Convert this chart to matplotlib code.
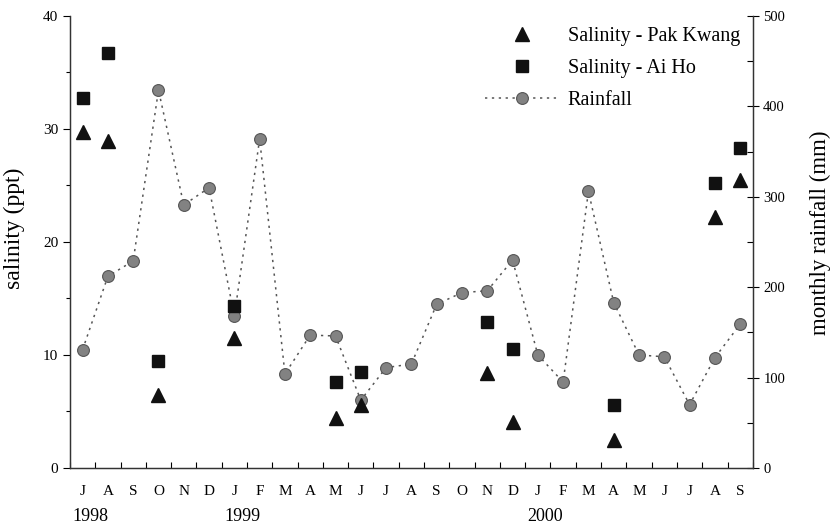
import numpy as np
import matplotlib
matplotlib.use("Agg")
from matplotlib import pyplot as plt
from matplotlib.ticker import MultipleLocator
import matplotlib.transforms as mtransforms

# months from July 1998 to September 2000
months = ["J", "A", "S", "O", "N", "D", "J", "F", "M", "A", "M", "J",
          "J", "A", "S", "O", "N", "D", "J", "F", "M", "A", "M", "J",
          "J", "A", "S"]
years = ["1998", "1999", "2000"]
year_start = [0, 6, 18]  # index of the first month of each year label

rainfall = [131, 212, 229, 418, 291, 310, 168, 364, 104, 147, 146, 75,
            111, 115, 181, 194, 196, 230, 125, 95, 306, 183, 125, 123,
            70, 122, 159]

# salinity sampling months (index into months) and values
pk_idx = [0, 1, 3, 6, 10, 11, 16, 17, 21, 25, 26]
pak_kwang = [29.7, 28.9, 6.5, 11.5, 4.4, 5.6, 8.4, 4.1, 2.5, 22.2, 25.5]
ah_idx = [0, 1, 3, 6, 10, 11, 16, 17, 21, 25, 26]
ai_ho = [32.75, 36.75, 9.5, 14.3, 7.65, 8.5, 12.9, 10.5, 5.6, 25.2, 28.3]

plt.rcParams['font.family'] = ['Liberation Serif', 'DejaVu Serif']

fig = plt.figure(figsize=(8.3, 5.27), dpi=100)
ax = fig.add_axes([0.0843, 0.112, 0.8227, 0.8577])
ax2 = ax.twinx()

x = np.arange(len(months)) + 0.5

rf, = ax2.plot(x, rainfall, linestyle=(0, (1.5, 3)), color="#555555", lw=1.1,
               marker="o", markersize=8.5, markerfacecolor="#828282",
               markeredgecolor="#555555", markeredgewidth=0.8,
               label="Rainfall", zorder=2)
# salinity drawn on the rainfall axes: 40 ppt <-> 500 mm
pk, = ax2.plot(x[pk_idx], np.array(pak_kwang) * 12.5, linestyle="none",
               marker="^", markersize=10, color="#111111",
               label="Salinity - Pak Kwang", zorder=3)
ah, = ax2.plot(x[ah_idx], np.array(ai_ho) * 12.5, linestyle="none",
               marker="s", markersize=8, color="#111111",
               label="Salinity - Ai Ho", zorder=3)

ax.set_xlim(0, len(months))
ax.set_ylim(0, 40)
ax2.set_ylim(0, 500)

ax.set_xticks(np.arange(len(months) + 1))
ax.set_xticklabels([])
ax.set_xticks(x, minor=True)
ax.set_xticklabels(months, minor=True, fontsize=11)
ax.tick_params(axis="x", which="major", direction="in", length=4, width=0.8)
ax.tick_params(axis="x", which="minor", length=0, pad=12)

ax.yaxis.set_major_locator(MultipleLocator(10))
ax.yaxis.set_minor_locator(MultipleLocator(5))
ax.tick_params(axis="y", which="major", direction="out", length=5,
               labelsize=11, width=0.8)
ax.tick_params(axis="y", which="minor", direction="out", length=3, width=0.8)

ax2.yaxis.set_major_locator(MultipleLocator(100))
ax2.yaxis.set_minor_locator(MultipleLocator(50))
ax2.tick_params(axis="y", which="major", direction="inout", length=8,
                labelsize=10.5, width=0.8)
ax2.tick_params(axis="y", which="minor", direction="in", length=4, width=0.8)

for a in (ax, ax2):
    a.spines["top"].set_visible(False)
    for s in ("left", "right", "bottom"):
        a.spines[s].set_linewidth(0.9)
        a.spines[s].set_color("#333333")

ax.set_ylabel("salinity (ppt)", fontsize=17)
ax.yaxis.set_label_coords(-0.066, 0.53)
ax2.set_ylabel("monthly rainfall (mm)", fontsize=16.5)
ax2.yaxis.set_label_coords(1.083, 0.52)

# year labels under the month letters
trans = mtransforms.blended_transform_factory(ax.transData, fig.transFigure)
for yr, i in zip(years, year_start):
    ax.text(i + 0.1, 0.019, yr, transform=trans, fontsize=13,
            ha="left", va="center")

leg = ax2.legend(handles=[pk, ah, rf], loc="upper right",
                 bbox_to_anchor=(1.008, 1.015), frameon=False, fontsize=14.5,
                 handlelength=3.6, handletextpad=0.5, labelspacing=0.62)

fig.savefig("out.png", dpi=100)
